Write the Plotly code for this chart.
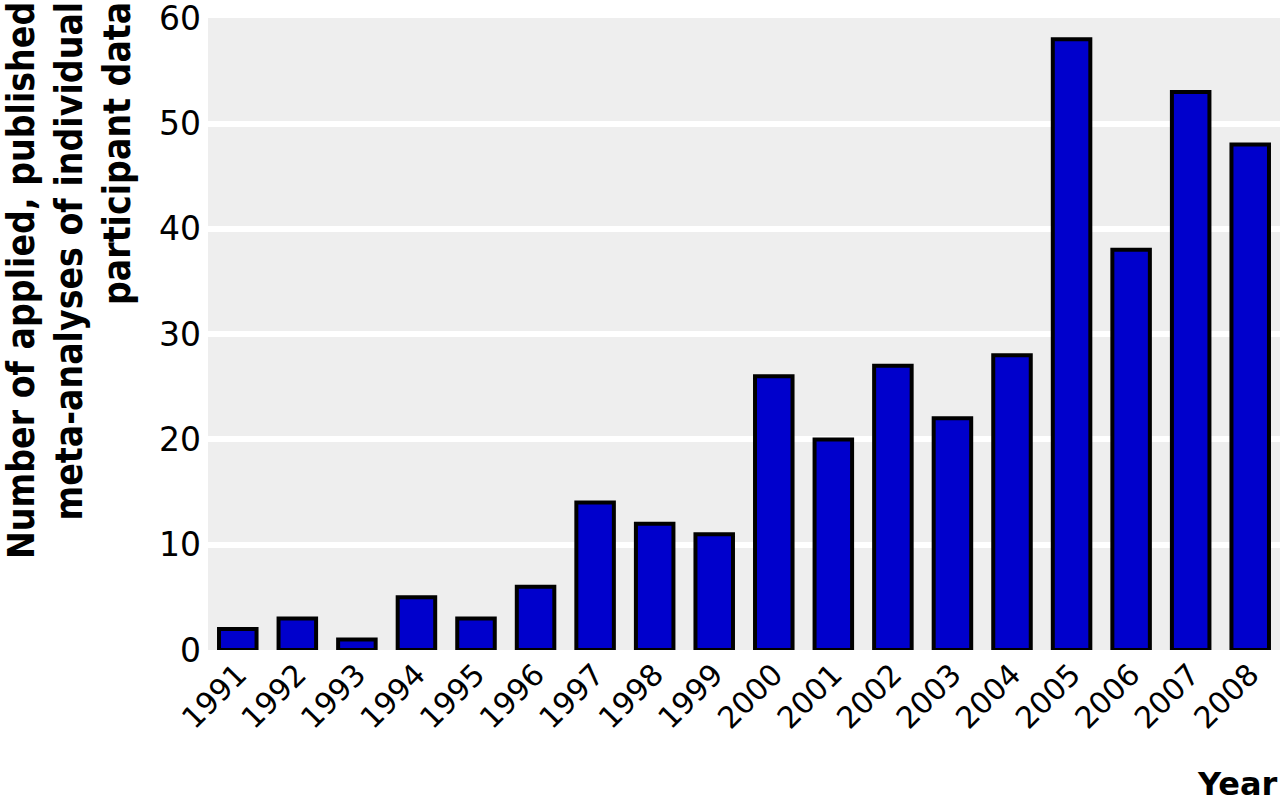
import plotly.graph_objects as go

years = [str(y) for y in range(1991, 2009)]
counts = [2, 3, 1, 5, 3, 6, 14, 12, 11, 26, 20, 27, 22, 28, 58, 38, 53, 48]
y_ticks = [0, 10, 20, 30, 40, 50, 60]

fig = go.Figure()
fig.add_trace(go.Bar(
    x=years, y=counts,
    marker=dict(color="#0000cc", line=dict(color="black", width=4)),
))

fig.update_layout(
    width=1280, height=808,
    margin=dict(l=208, r=0, t=18, b=158),
    paper_bgcolor="white", plot_bgcolor="#eeeeee",
    bargap=0.37,
    showlegend=False,
    font=dict(family="DejaVu Sans", color="black"),
    xaxis=dict(tickangle=-45, tickfont=dict(size=30), showgrid=False, automargin=False,
               ticks="", zeroline=False, showline=False),
    yaxis=dict(range=[0, 60.02], tickvals=y_ticks, tickfont=dict(size=33),
               ticklabelstandoff=6, ticklabeloverflow="allow", automargin=False,
               gridcolor="white", gridwidth=6, zeroline=False, ticks="", showline=False),
    annotations=[
        dict(text="<b>Number of applied, published<br>meta-analyses of individual<br>participant data</b>",
             textangle=-90, xref="paper", yref="paper", x=0, y=1,
             xanchor="left", yanchor="top", xshift=-210, yshift=18,
             align="right", showarrow=False,
             font=dict(size=37, family="DejaVu Sans Condensed, DejaVu Sans")),
        dict(text="<b>Year</b>", xref="paper", yref="paper", x=1, y=0,
             xanchor="right", yanchor="bottom", yshift=-155, showarrow=False,
             font=dict(size=32, family="DejaVu Sans")),
    ],
)

fig.write_html("out.html", config={"displayModeBar": False},
               post_script="document.body.style.margin='0';")
